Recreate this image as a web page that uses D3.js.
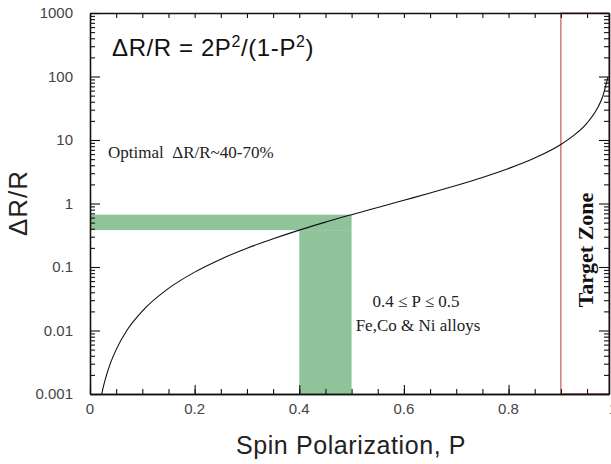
<!DOCTYPE html>
<html>
<head>
<meta charset="utf-8">
<script src="https://cdn.jsdelivr.net/npm/d3@7"></script>
<style>
  body { margin: 0; background: #fff; }
  svg { display: block; }
</style>
</head>
<body>
<div class="chart"></div>
<script>
// curve points (P, dR/R)
var curveP = [0.022, 0.025, 0.03, 0.04, 0.05, 0.07, 0.1, 0.15, 0.2, 0.25, 0.3, 0.35, 0.4, 0.45, 0.5,
    0.55, 0.6, 0.65, 0.7, 0.75, 0.8, 0.85, 0.9, 0.93, 0.95, 0.97, 0.98, 0.99];
var curveR = [0.00097, 0.00125, 0.0018, 0.0032, 0.005, 0.0099, 0.0202, 0.046, 0.083, 0.133, 0.198, 0.278, 0.381, 0.509, 0.667,
    0.867, 1.125, 1.46, 1.92, 2.57, 3.56, 5.2, 8.5, 12.8, 18.5, 31.8, 48.5, 98.5];

// shaded ranges: P from/to, dR/R from/to
var bandP0 = [0, 0.4];
var bandP1 = [0.5, 0.5];
var bandR0 = [0.381, 0.001];
var bandR1 = [0.667, 0.381];

var targetP = 0.9;

var xMajor = [0, 0.2, 0.4, 0.6, 0.8, 1];
var xLabels = ["0", "0.2", "0.4", "0.6", "0.8", "1"];
var yMajor = [0.001, 0.01, 0.1, 1, 10, 100, 1000];
var yLabels = ["0.001", "0.01", "0.1", "1", "10", "100", "1000"];

var width = 611, height = 464;
var margin = { left: 90, right: 609, top: 13, bottom: 394 };

var svg = d3.select(".chart").append("svg")
    .attr("width", width)
    .attr("height", height);

var xScale = d3.scaleLinear().domain([0, 0.992]).range([margin.left, margin.right]);
var yScale = d3.scaleLog().domain([0.001, 1000]).range([margin.bottom, margin.top]);

var xMinor = d3.range(0, 0.991, 0.05).map(d => +d.toFixed(2));
var yMinor = [];
yMajor.slice(0, -1).forEach(d => {
    for (var k = 2; k < 10; k++) yMinor.push(d * k);
});

var sans = "'Liberation Sans', Arial, sans-serif";
var serif = "'Liberation Serif', 'Times New Roman', serif";

// green bands
svg.append("g")
    .selectAll("rect")
    .data(bandP0.map((d, i) => ({ p0: d, p1: bandP1[i], r0: bandR0[i], r1: bandR1[i] })))
    .join("rect")
    .attr("x", d => xScale(d.p0))
    .attr("width", d => xScale(d.p1) - xScale(d.p0))
    .attr("y", d => yScale(d.r1))
    .attr("height", d => yScale(d.r0) - yScale(d.r1))
    .attr("fill", "#8fc49b");

// target zone box
svg.append("rect")
    .attr("x", xScale(targetP))
    .attr("y", margin.top)
    .attr("width", margin.right - xScale(targetP))
    .attr("height", margin.bottom - margin.top)
    .attr("fill", "none")
    .attr("stroke", "#cc6a60")
    .attr("stroke-width", 1.3);

// curve
var line = d3.line()
    .x(d => xScale(d[0]))
    .y(d => yScale(d[1]))
    .curve(d3.curveMonotoneX);

svg.append("path")
    .datum(curveP.map((d, i) => [d, curveR[i]]))
    .attr("d", line)
    .attr("fill", "none")
    .attr("stroke", "#111")
    .attr("stroke-width", 1.1);

// axes (ticks inside on all four sides)
function frame(g) {
    g.selectAll(".domain").attr("stroke", "#111").attr("stroke-width", 1.3);
    g.selectAll(".tick line").attr("stroke", "#111").attr("stroke-width", 1.1);
    g.selectAll("text").remove();
}

svg.append("g")
    .attr("transform", `translate(0,${margin.bottom})`)
    .call(d3.axisBottom(xScale).tickValues(xMinor).tickSize(-5).tickSizeOuter(0))
    .call(frame);
svg.append("g")
    .attr("transform", `translate(0,${margin.bottom})`)
    .call(d3.axisBottom(xScale).tickValues(xMajor.slice(0, -1)).tickSize(-9).tickSizeOuter(0))
    .call(frame);
svg.append("g")
    .attr("transform", `translate(0,${margin.top})`)
    .call(d3.axisTop(xScale).tickValues(xMinor).tickSize(-5).tickSizeOuter(0))
    .call(frame);

svg.append("g")
    .attr("transform", `translate(${margin.left},0)`)
    .call(d3.axisLeft(yScale).tickValues(yMinor).tickSize(-5).tickSizeOuter(0))
    .call(frame);
svg.append("g")
    .attr("transform", `translate(${margin.left},0)`)
    .call(d3.axisLeft(yScale).tickValues(yMajor).tickSize(-10).tickSizeOuter(0))
    .call(frame);
svg.append("g")
    .attr("transform", `translate(${margin.right},0)`)
    .call(d3.axisRight(yScale).tickValues(yMinor).tickSize(-5).tickSizeOuter(0))
    .call(frame);
svg.append("g")
    .attr("transform", `translate(${margin.right},0)`)
    .call(d3.axisRight(yScale).tickValues(yMajor).tickSize(-10).tickSizeOuter(0))
    .call(frame);

// tick labels
svg.append("g")
    .selectAll("text")
    .data(xMajor)
    .join("text")
    .attr("x", d => xScale(d))
    .attr("y", margin.bottom + 20)
    .attr("text-anchor", "middle")
    .attr("font-family", sans)
    .attr("font-size", 15)
    .attr("fill", "#444")
    .text((d, i) => xLabels[i]);

svg.append("g")
    .selectAll("text")
    .data(yMajor)
    .join("text")
    .attr("x", margin.left - 17)
    .attr("y", d => yScale(d) + 5)
    .attr("text-anchor", "end")
    .attr("font-family", sans)
    .attr("font-size", 15)
    .attr("fill", "#444")
    .text((d, i) => yLabels[i]);

// axis titles
svg.append("text")
    .attr("transform", "translate(27,203) rotate(-90)")
    .attr("text-anchor", "middle")
    .attr("font-family", sans)
    .attr("font-size", 26)
    .attr("letter-spacing", 1)
    .attr("fill", "#222")
    .text("ΔR/R");

svg.append("text")
    .attr("x", 351)
    .attr("y", 454)
    .attr("text-anchor", "middle")
    .attr("font-family", sans)
    .attr("font-size", 25)
    .attr("letter-spacing", 0.6)
    .attr("fill", "#222")
    .text("Spin Polarization, P");

// formula
var eq = svg.append("text")
    .attr("x", 112)
    .attr("y", 56)
    .attr("font-family", sans)
    .attr("font-size", 24)
    .attr("letter-spacing", 0.6)
    .attr("fill", "#111");
eq.append("tspan").text("ΔR/R = 2P");
eq.append("tspan").attr("font-size", 16).attr("dy", -9).text("2");
eq.append("tspan").attr("dy", 9).text("/(1-P");
eq.append("tspan").attr("font-size", 16).attr("dy", -9).text("2");
eq.append("tspan").attr("dy", 9).text(")");

// annotations
svg.append("text")
    .attr("x", 108)
    .attr("y", 158)
    .attr("font-family", serif)
    .attr("font-size", 17)
    .attr("fill", "#222")
    .attr("xml:space", "preserve")
    .text("Optimal  ΔR/R~40-70%");

svg.append("text")
    .attr("x", 416)
    .attr("y", 307)
    .attr("text-anchor", "middle")
    .attr("font-family", serif)
    .attr("font-size", 17)
    .attr("fill", "#222")
    .text("0.4 ≤ P ≤ 0.5");

svg.append("text")
    .attr("x", 418)
    .attr("y", 331)
    .attr("text-anchor", "middle")
    .attr("font-family", serif)
    .attr("font-size", 17)
    .attr("fill", "#222")
    .text("Fe,Co & Ni alloys");

svg.append("text")
    .attr("transform", "translate(593,250) rotate(-90)")
    .attr("text-anchor", "middle")
    .attr("font-family", serif)
    .attr("font-weight", "bold")
    .attr("font-size", 22)
    .attr("fill", "#111")
    .text("Target Zone");
</script>
</body>
</html>
